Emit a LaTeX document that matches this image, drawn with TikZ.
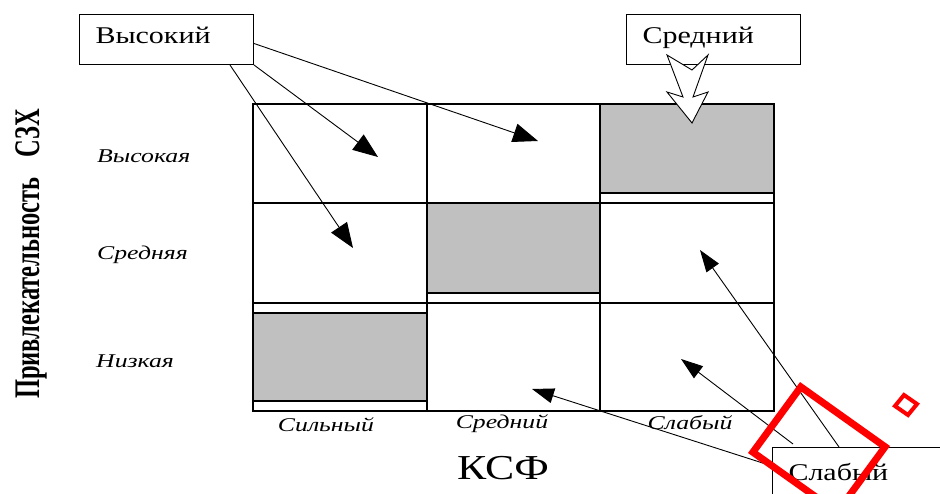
\documentclass[tikz,border=0pt]{standalone}
\usepackage{fontspec}
\setmainfont{Liberation Serif}
\newfontfamily\wideserif[FakeStretch=1.25]{Liberation Serif}
\newfontfamily\labelserif[FakeStretch=1.32]{Liberation Serif}
\newfontfamily\narrowserif[FakeStretch=0.68]{Liberation Serif}
\usepackage[dvipsnames]{xcolor}
\usepackage{tikz}
\usetikzlibrary{arrows.meta}
\usetikzlibrary{calc}
\usetikzlibrary{positioning}
\definecolor{silver}{RGB}{192,192,192}
\definecolor{markred}{RGB}{255,0,0}

\begin{document}
\begin{tikzpicture}[x=1pt, y=-1pt,
            levelbox/.style={draw, line width=1pt, anchor=north west, font=\wideserif\fontsize{24}{28}\selectfont, align=left, text width=142pt, inner xsep=16pt, inner ysep=12pt, text height=17pt, text depth=9pt},
            rowlabel/.style={anchor=west, inner sep=0pt, font=\labelserif\itshape\fontsize{19.5}{22}\selectfont},
            collabel/.style={inner sep=0pt, font=\labelserif\itshape\fontsize{19.5}{22}\selectfont},
            cellline/.style={line width=1.2pt},
            shaded/.style={draw, line width=1.2pt, fill=silver},
            pointer/.style={line width=0.9pt, -{Triangle[length=25pt,width=19pt]}},
            weakpointer/.style={line width=0.9pt, -{Triangle[length=22pt,width=15pt]}},
            marker/.style={draw=markred, line join=miter}]
            \useasboundingbox (0,0) rectangle (940,494);

            \draw[shaded] (600,104) rectangle (774,193);
            \draw[shaded] (427,203) rectangle (600,293);
            \draw[shaded] (253,313) rectangle (427,401);
            \draw[cellline] (253,104) rectangle (774,411);
            \draw[cellline] (427,104) -- (427,411);
            \draw[cellline] (600,104) -- (600,411);
            \draw[cellline] (253,203) -- (774,203);
            \draw[cellline] (253,303) -- (774,303);

            \draw (97,156) node[rowlabel]                 (rhigh) {Высокая};
            \draw (97,255) node[rowlabel]                 (rmid) {Средняя};
            \draw (96,361) node[rowlabel]                 (rlow) {Низкая};
            \draw (326,425) node[collabel]                (cstrong) {Сильный};
            \draw (502,424) node[collabel]                (cmid) {Средний};
            \draw (690,423) node[collabel]                (cweak) {Слабый};
            \draw (503,468) node[font=\wideserif\fontsize{35}{40}\selectfont]         (ksf) {КСФ};
            \draw (31,254) node[rotate=90, font=\narrowserif\bfseries\fontsize{36}{40}\selectfont]         (attr) {Привлекательность\hspace{20pt}СЗХ};

            \draw (79,14) node[levelbox]                  (vys) {Высокий};
            \draw (626,14) node[levelbox]                 (sred) {Средний};
            \draw (772,447) node[levelbox, text width=180pt, text height=21pt]        (slab) {Слабый};

            \coordinate (hit1) at (378,157);
            \coordinate (hit2) at (353,248);
            \coordinate (hit3) at (538,141);
            \coordinate (low1) at (700,250);
            \coordinate (low2) at (681,359);
            \coordinate (low3) at (532,389);
            \coordinate (dblhead) at (692,123);

            \draw[pointer] ([yshift=-4pt]vys.east) -- (hit3);
            \draw[pointer] (vys.south east) -- (hit1);
            \draw[pointer] ([xshift=-24pt]vys.south east) -- (hit2);
            \draw[weakpointer] ([xshift=67pt]slab.north west) -- (low1);
            \draw[weakpointer] ([xshift=21pt, yshift=3pt]slab.north west) -- (low2);
            \draw[weakpointer] ([yshift=-19pt]slab.north west) -- (low3);

            \draw[line width=0.9pt, fill=white, line join=miter, shift={(dblhead)}] (-25,-68) -- (0,-53) -- (16,-68) -- (1,-26) -- (16,-31) -- (0,0) -- (-25,-31) -- (-9,-26) -- cycle;

            \draw[marker, line width=7pt] (800.8,386.9) -- (885.1,446.8) -- (837.2,512.1) -- (752.9,452.2) -- cycle;
            \draw[marker, line width=4pt] (904,395) -- (917,404) -- (908,415) -- (895,406) -- cycle;
\end{tikzpicture}
\end{document}
